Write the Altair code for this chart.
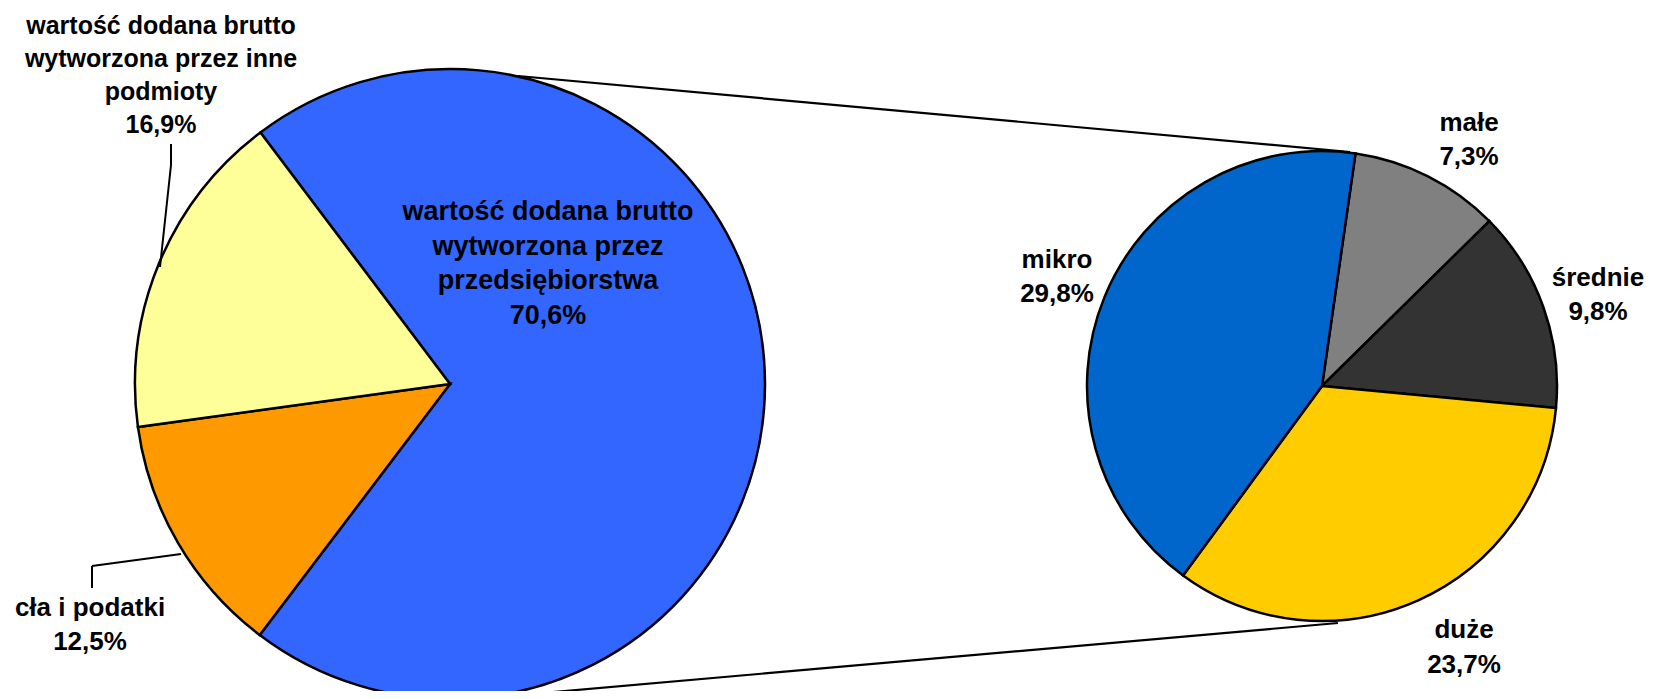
import math
import altair as alt
import pandas as pd

# ---------------- data ----------------
left_cats = [
    "wartość dodana brutto\nwytworzona przez\nprzedsiębiorstwa",
    "cła i podatki",
    "wartość dodana brutto\nwytworzona przez inne\npodmioty",
]
left_vals = [70.6, 12.5, 16.9]
left_colors = ["#3366FF", "#FF9900", "#FFFF99"]

right_cats = ["małe", "średnie", "duże", "mikro"]
right_vals = [7.3, 9.8, 23.7, 29.8]
right_colors = ["#808080", "#333333", "#FFCC00", "#0066CC"]


def pct(v):
    return f"{v:.1f}".replace(".", ",") + "%"


left_df = pd.DataFrame({
    "cat": left_cats,
    "val": left_vals,
    "idx": list(range(len(left_cats))),
    "label": [c + "\n" + pct(v) for c, v in zip(left_cats, left_vals)],
})
right_df = pd.DataFrame({
    "cat": right_cats,
    "val": right_vals,
    "idx": list(range(len(right_cats))),
    "label": [c + "\n" + pct(v) for c, v in zip(right_cats, right_vals)],
})

# ---------------- layout ----------------
W, H = 1641, 683
LCX, LCY, LR = 442, 376, 315
RCX, RCY, RR = 1314, 378, 235
L_START = math.radians(323)
R_START = math.radians(8.2)
FONT = "Liberation Sans"

left_pie = alt.Chart(left_df).mark_arc(
    outerRadius=LR, stroke="black", strokeWidth=2.5
).encode(
    theta=alt.Theta("val:Q", stack=True,
                    scale=alt.Scale(range=[L_START, L_START + 2 * math.pi])),
    color=alt.Color("cat:N", scale=alt.Scale(domain=left_cats, range=left_colors), legend=None),
    order=alt.Order("idx:Q"),
    x=alt.value(LCX),
    y=alt.value(LCY),
)

right_pie = alt.Chart(right_df).mark_arc(
    outerRadius=RR, stroke="black", strokeWidth=2.5
).encode(
    theta=alt.Theta("val:Q", stack=True,
                    scale=alt.Scale(range=[R_START, R_START + 2 * math.pi])),
    color=alt.Color("cat:N", scale=alt.Scale(domain=right_cats, range=right_colors), legend=None),
    order=alt.Order("idx:Q"),
    x=alt.value(RCX),
    y=alt.value(RCY),
)

dummy = pd.DataFrame({"k": [0]})


def seg(x1, y1, x2, y2, w=2):
    return alt.Chart(dummy).mark_rule(color="black", strokeWidth=w).encode(
        x=alt.value(x1), y=alt.value(y1), x2=alt.value(x2), y2=alt.value(y2)
    )


lines = [
    seg(510, 68, 1342, 144, 2.2),   # top connector
    seg(489, 689, 1330, 615, 2.2),  # bottom connector
    seg(163, 136, 163, 157, 2),     # leader 16,9%
    seg(163, 157, 152, 259, 2),
    seg(173, 546, 84, 558, 2),      # leader cła i podatki
    seg(84, 558, 84, 580, 2),
]


def label(df, cat, x, y, fs=26, lh=34):
    return alt.Chart(df).transform_filter(
        alt.datum.cat == cat
    ).mark_text(
        font=FONT, fontSize=fs, fontWeight="bold", color="black",
        align="center", baseline="alphabetic", lineBreak="\n", lineHeight=lh,
    ).encode(text="label:N", x=alt.value(x), y=alt.value(y))


labels = [
    label(left_df, left_cats[0], 540, 212, fs=27, lh=34.5),
    label(left_df, left_cats[1], 82, 608),
    label(left_df, left_cats[2], 153, 26, fs=25, lh=33),
    label(right_df, "małe", 1461, 123),
    label(right_df, "średnie", 1590, 278),
    label(right_df, "duże", 1456, 630, lh=35),
    label(right_df, "mikro", 1049, 260),
]

chart = alt.layer(
    *lines[:2], left_pie, right_pie, *lines[2:], *labels
).resolve_scale(
    theta="independent", color="independent"
).properties(
    width=W, height=H, padding=0,
    autosize=alt.AutoSizeParams(type="none"),
).configure_view(stroke=None)

chart.save("out.html", embed_options={"renderer": "svg", "actions": False})
